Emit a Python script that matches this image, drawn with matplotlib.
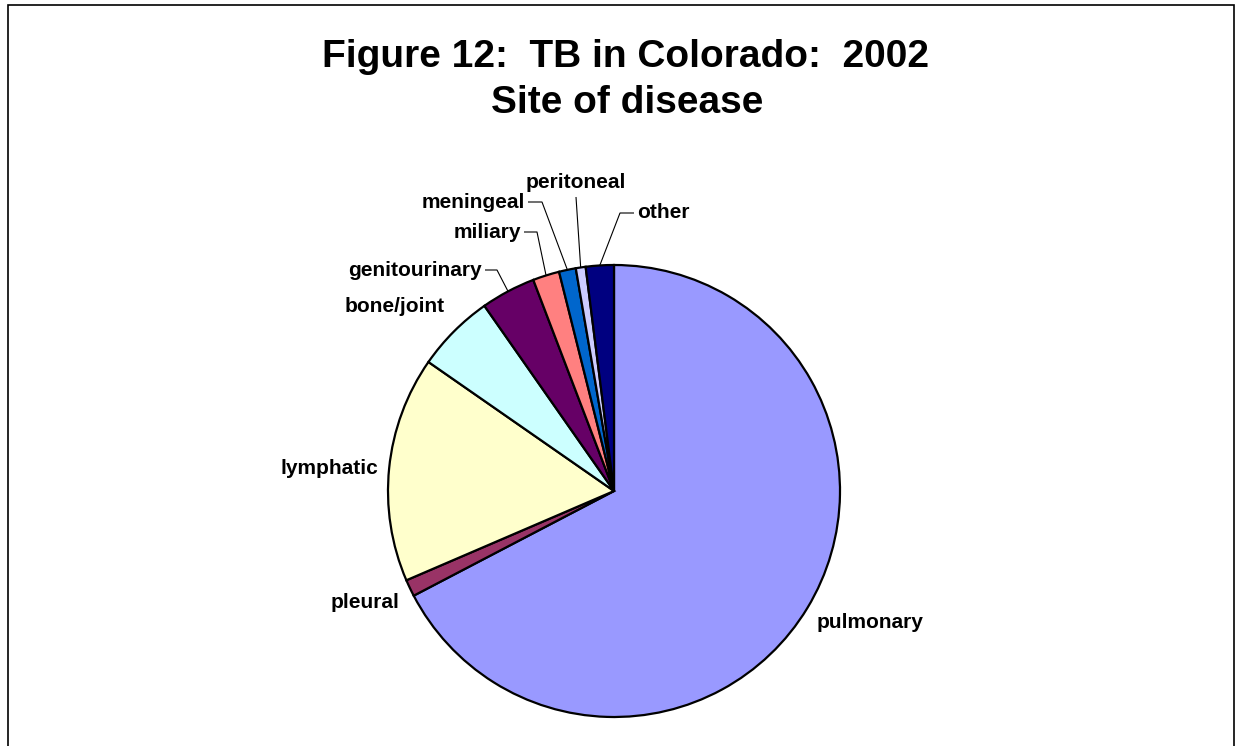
import numpy as np
import matplotlib.pyplot as plt
from matplotlib.patches import Rectangle

#data (percent of cases)
sites = ['pulmonary', 'pleural', 'lymphatic', 'bone/joint', 'genitourinary',
         'miliary', 'meningeal', 'peritoneal', 'other']
share = [67.2, 1.2, 16.1, 5.6, 3.9, 1.9, 1.2, 0.7, 2.0]
colors = ['#9999FF', '#993366', '#FFFFCC', '#CCFFFF', '#660066',
          '#FF8080', '#0066CC', '#CCCCFF', '#000080']

#layout in pixels (y measured from top)
W, H = 1235, 746
CX, CY, R = 614, 491, 226
# label anchor x, y, ha, elbow (x, y) or None, leader?
label_pos = {
    'pulmonary':     (817, 623, 'left',   None),
    'pleural':       (399, 603, 'right',  None),
    'lymphatic':     (378, 469, 'right',  None),
    'bone/joint':    (445, 307, 'right',  None),
    'genitourinary': (482, 270, 'right',  (497, 270)),
    'miliary':       (521, 232, 'right',  (537, 232)),
    'meningeal':     (525, 202, 'right',  (542, 202)),
    'peritoneal':    (576, 183, 'center', (576, 197)),
    'other':         (637, 213, 'left',   (620, 213)),
}
leader_start = {
    'genitourinary': (485, 270),
    'miliary': (524, 232),
    'meningeal': (528, 202),
    'peritoneal': (576, 197),
    'other': (634, 213),
}

plt.rcParams['font.family'] = ['Liberation Sans', 'DejaVu Sans']

fig = plt.figure(figsize=(W / 100, H / 100), dpi=100)
ax = fig.add_axes([0, 0, 1, 1])

wedges, _ = ax.pie(share, colors=colors, startangle=90, counterclock=False,
                   center=(CX, H - CY), radius=R,
                   wedgeprops=dict(edgecolor='black', linewidth=1.6))
ax.set_xlim(0, W)
ax.set_ylim(0, H)
ax.set_aspect('equal')
ax.axis('off')

#labels and leader lines
for w, name in zip(wedges, sites):
    x, y, ha, elbow = label_pos[name]
    ax.text(x, H - y, name, ha=ha, va='center', fontsize=15, fontweight='bold')
    if elbow is not None:
        mid = np.deg2rad((w.theta1 + w.theta2) / 2)
        ex = CX + R * np.cos(mid)
        ey = (H - CY) + R * np.sin(mid)
        sx, sy = leader_start[name]
        ax.plot([sx, elbow[0], ex], [H - sy, H - elbow[1], ey],
                color='black', lw=0.8, solid_capstyle='butt')

#title
ax.text(625, H - 57, 'Figure 12:  TB in Colorado:  2002', ha='center', va='center',
        fontsize=28, fontweight='bold')
ax.text(627, H - 103, 'Site of disease', ha='center', va='center',
        fontsize=28, fontweight='bold')

#frame around the chart
fig.patches.append(Rectangle((8, -10), 1226, H - 4 + 10 - 1, transform=None,
                             fill=False, edgecolor='black', lw=1.2))

fig.savefig('out.png', dpi=100)
